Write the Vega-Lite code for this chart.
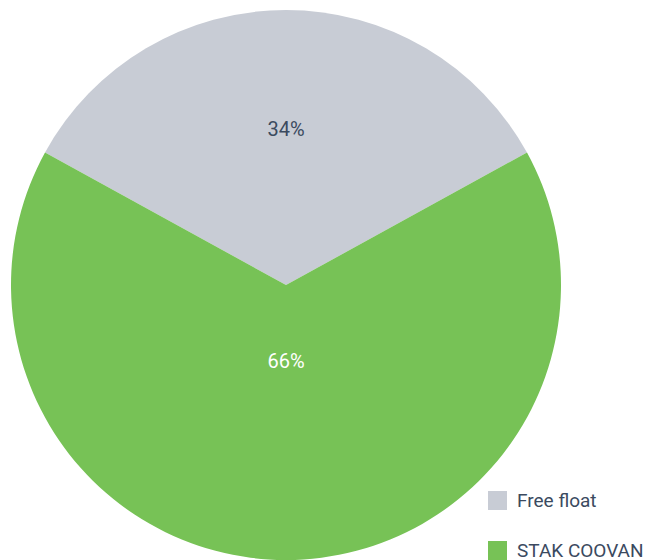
{
  "$schema": "https://vega.github.io/schema/vega-lite/v6.json",
  "width": 550,
  "height": 550,
  "autosize": {"type": "none"},
  "padding": {"left": 11, "top": 10, "right": 99, "bottom": 0},
  "background": "#ffffff",
  "data": {
    "values": [
      {"category": "Free float", "share": 34, "label": "34%"},
      {"category": "STAK COOVAN", "share": 66, "label": "66%"}
    ]
  },
  "encoding": {
    "theta": {"field": "share", "type": "quantitative", "stack": true, "scale": {"range": [-1.0681, 5.2151]}},
    "order": {"field": "category", "type": "nominal", "sort": "ascending"}
  },
  "layer": [
    {
      "mark": {"type": "arc", "stroke": null, "strokeWidth": 0},
      "encoding": {
        "color": {
          "field": "category",
          "type": "nominal",
          "scale": {"domain": ["Free float", "STAK COOVAN"], "range": ["#c8ccd5", "#77c256"]},
          "legend": {
            "title": null,
            "orient": "none",
            "legendX": 477,
            "legendY": 481,
            "symbolType": "square",
            "symbolSize": 361,
            "symbolStrokeWidth": 0,
            "symbolOpacity": 1,
            "labelFont": "Roboto",
            "labelFontSize": 19,
            "labelColor": "#3b4a5f",
            "labelOffset": 10,
            "rowPadding": 30,
            "labelLimit": 300
          }
        }
      }
    },
    {
      "mark": {"type": "text", "font": "Roboto", "fontSize": 20, "align": "center", "baseline": "middle"},
      "encoding": {
        "radius": {
          "field": "share",
          "type": "quantitative",
          "stack": null,
          "scale": {"type": "linear", "zero": false, "domain": [34, 66], "range": [155, 77]}
        },
        "text": {"field": "label", "type": "nominal"},
        "color": {"condition": {"test": "datum.category == 'Free float'", "value": "#3b4a5f"}, "value": "#ffffff"}
      }
    }
  ]
}
